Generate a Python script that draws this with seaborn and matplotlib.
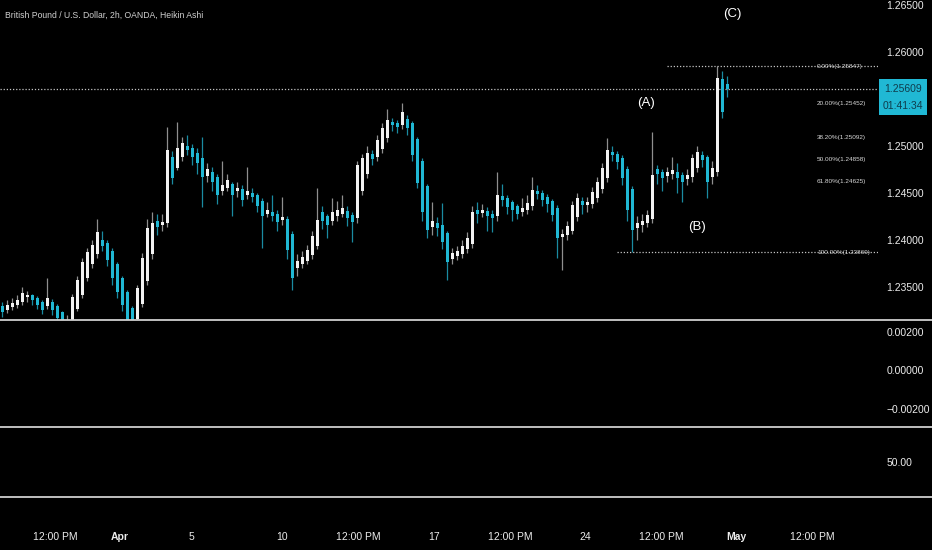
import numpy as np
import pandas as pd
import seaborn as sns
import matplotlib.pyplot as plt
from matplotlib.lines import Line2D
from matplotlib.patches import Rectangle

# Heikin Ashi bars (GBP/USD), one bar per step
ha_open = [
    1.2330, 1.2326, 1.2329, 1.2331, 1.2334, 1.2339, 1.2341, 1.2338, 1.2334, 1.2330,
    1.2334, 1.2330, 1.2323, 1.2312, 1.2314, 1.2327, 1.2342, 1.2360, 1.2374, 1.2385,
    1.2400, 1.2397, 1.2388, 1.2374, 1.2360, 1.2345, 1.2328, 1.2316, 1.2332, 1.2356,
    1.2385, 1.2420, 1.2416, 1.2418, 1.2488, 1.2477, 1.2488, 1.2500, 1.2498, 1.2493,
    1.2487, 1.2468, 1.2472, 1.2467, 1.2452, 1.2455, 1.2460, 1.2452, 1.2454, 1.2448,
    1.2450, 1.2448, 1.2442, 1.2428, 1.2430, 1.2428, 1.2421, 1.2422, 1.2406, 1.2370,
    1.2374, 1.2378, 1.2384, 1.2394, 1.2430, 1.2425, 1.2420, 1.2425, 1.2428, 1.2431,
    1.2427, 1.2423, 1.2452, 1.2470, 1.2491, 1.2488, 1.2497, 1.2508, 1.2526, 1.2524,
    1.2522, 1.2529, 1.2524, 1.2507, 1.2484, 1.2457, 1.2414, 1.2418, 1.2416, 1.2407,
    1.2380, 1.2383, 1.2385, 1.2390, 1.2396, 1.2432, 1.2429, 1.2431, 1.2428, 1.2425,
    1.2447, 1.2445, 1.2440, 1.2436, 1.2430, 1.2432, 1.2436, 1.2452, 1.2450, 1.2446,
    1.2442, 1.2434, 1.2403, 1.2405, 1.2410, 1.2424, 1.2441, 1.2437, 1.2438, 1.2445,
    1.2454, 1.2466, 1.2494, 1.2492, 1.2487, 1.2476, 1.2454, 1.2413, 1.2416, 1.2418,
    1.2422, 1.2475, 1.2472, 1.2468, 1.2470, 1.2472, 1.2469, 1.2465, 1.2467, 1.2477,
    1.2490, 1.2488, 1.2467, 1.2472, 1.2571, 1.2566,
]
ha_close = [
    1.2323, 1.2331, 1.2333, 1.2336, 1.2344, 1.2341, 1.2336, 1.2331, 1.2326, 1.2338,
    1.2326, 1.2317, 1.2310, 1.2315, 1.2339, 1.2357, 1.2377, 1.2387, 1.2395, 1.2408,
    1.2394, 1.2379, 1.2360, 1.2345, 1.2331, 1.2310, 1.2304, 1.2349, 1.2381, 1.2413,
    1.2418, 1.2414, 1.2419, 1.2496, 1.2466, 1.2498, 1.2503, 1.2496, 1.2488, 1.2482,
    1.2467, 1.2476, 1.2462, 1.2448, 1.2458, 1.2464, 1.2448, 1.2455, 1.2443, 1.2452,
    1.2446, 1.2436, 1.2426, 1.2432, 1.2426, 1.2419, 1.2424, 1.2389, 1.2360, 1.2378,
    1.2382, 1.2389, 1.2404, 1.2421, 1.2420, 1.2416, 1.2430, 1.2432, 1.2434, 1.2423,
    1.2419, 1.2480, 1.2487, 1.2493, 1.2486, 1.2506, 1.2519, 1.2528, 1.2522, 1.2520,
    1.2536, 1.2519, 1.2490, 1.2461, 1.2430, 1.2411, 1.2420, 1.2413, 1.2398, 1.2377,
    1.2386, 1.2388, 1.2394, 1.2402, 1.2430, 1.2428, 1.2432, 1.2426, 1.2423, 1.2448,
    1.2443, 1.2435, 1.2432, 1.2428, 1.2434, 1.2439, 1.2453, 1.2449, 1.2443, 1.2438,
    1.2427, 1.2402, 1.2406, 1.2415, 1.2437, 1.2445, 1.2437, 1.2440, 1.2451, 1.2462,
    1.2477, 1.2496, 1.2490, 1.2483, 1.2466, 1.2432, 1.2411, 1.2418, 1.2420, 1.2427,
    1.2469, 1.2470, 1.2466, 1.2472, 1.2474, 1.2466, 1.2462, 1.2469, 1.2487, 1.2494,
    1.2485, 1.2462, 1.2477, 1.2572, 1.2536, 1.2561,
]
ha_high = [
    1.2334, 1.2336, 1.2338, 1.2341, 1.2350, 1.2346, 1.2343, 1.2340, 1.2336, 1.2360,
    1.2337, 1.2332, 1.2325, 1.2320, 1.2343, 1.2362, 1.2381, 1.2392, 1.2400, 1.2422,
    1.2410, 1.2400, 1.2391, 1.2377, 1.2362, 1.2347, 1.2330, 1.2352, 1.2386, 1.2422,
    1.2430, 1.2428, 1.2428, 1.2520, 1.2495, 1.2525, 1.2510, 1.2512, 1.2502, 1.2498,
    1.2510, 1.2482, 1.2478, 1.2470, 1.2484, 1.2470, 1.2462, 1.2462, 1.2458, 1.2478,
    1.2455, 1.2450, 1.2445, 1.2440, 1.2448, 1.2432, 1.2446, 1.2425, 1.2410, 1.2385,
    1.2388, 1.2395, 1.2410, 1.2455, 1.2436, 1.2428, 1.2445, 1.2442, 1.2448, 1.2436,
    1.2430, 1.2484, 1.2492, 1.2500, 1.2496, 1.2512, 1.2524, 1.2539, 1.2530, 1.2528,
    1.2546, 1.2533, 1.2527, 1.2510, 1.2487, 1.2460, 1.2440, 1.2424, 1.2439, 1.2410,
    1.2392, 1.2394, 1.2400, 1.2408, 1.2436, 1.2440, 1.2438, 1.2435, 1.2432, 1.2472,
    1.2460, 1.2448, 1.2443, 1.2438, 1.2445, 1.2448, 1.2467, 1.2458, 1.2453, 1.2449,
    1.2444, 1.2437, 1.2412, 1.2420, 1.2442, 1.2450, 1.2446, 1.2446, 1.2456, 1.2467,
    1.2482, 1.2509, 1.2500, 1.2495, 1.2490, 1.2479, 1.2457, 1.2425, 1.2428, 1.2432,
    1.2515, 1.2480, 1.2476, 1.2478, 1.2488, 1.2482, 1.2472, 1.2475, 1.2492, 1.2500,
    1.2495, 1.2490, 1.2484, 1.2585, 1.2580, 1.2574,
]
ha_low = [
    1.2318, 1.2322, 1.2326, 1.2328, 1.2331, 1.2334, 1.2331, 1.2327, 1.2321, 1.2327,
    1.2320, 1.2313, 1.2306, 1.2305, 1.2310, 1.2324, 1.2338, 1.2356, 1.2370, 1.2381,
    1.2388, 1.2372, 1.2352, 1.2338, 1.2325, 1.2302, 1.2298, 1.2312, 1.2329, 1.2352,
    1.2380, 1.2405, 1.2410, 1.2414, 1.2460, 1.2474, 1.2484, 1.2490, 1.2480, 1.2470,
    1.2435, 1.2462, 1.2452, 1.2438, 1.2448, 1.2452, 1.2425, 1.2446, 1.2436, 1.2444,
    1.2440, 1.2430, 1.2392, 1.2424, 1.2420, 1.2410, 1.2416, 1.2380, 1.2347, 1.2362,
    1.2370, 1.2375, 1.2380, 1.2390, 1.2412, 1.2402, 1.2416, 1.2420, 1.2424, 1.2415,
    1.2398, 1.2418, 1.2448, 1.2466, 1.2480, 1.2484, 1.2493, 1.2504, 1.2516, 1.2514,
    1.2518, 1.2512, 1.2484, 1.2455, 1.2420, 1.2402, 1.2405, 1.2404, 1.2390, 1.2357,
    1.2375, 1.2379, 1.2381, 1.2386, 1.2392, 1.2418, 1.2424, 1.2410, 1.2408, 1.2420,
    1.2436, 1.2428, 1.2420, 1.2422, 1.2425, 1.2428, 1.2432, 1.2444, 1.2436, 1.2430,
    1.2420, 1.2381, 1.2368, 1.2400, 1.2406, 1.2420, 1.2428, 1.2430, 1.2434, 1.2440,
    1.2450, 1.2462, 1.2484, 1.2476, 1.2458, 1.2420, 1.2387, 1.2400, 1.2408, 1.2414,
    1.2418, 1.2460, 1.2452, 1.2462, 1.2465, 1.2450, 1.2440, 1.2458, 1.2462, 1.2472,
    1.2478, 1.2445, 1.2460, 1.2468, 1.2530, 1.2552,
]

last_price = 1.25609
countdown = "01:41:34"
price_ticks = [1.235, 1.240, 1.245, 1.250, 1.260, 1.265]

fib_ratios = ["0.00%", "20.00%", "38.20%", "50.00%", "61.80%", "100.00%"]
fib_levels = [1.25847, 1.25452, 1.25092, 1.24858, 1.24625, 1.23869]

wave_labels = ["(A)", "(B)", "(C)"]
wave_bar = [128.8, 139.0, 146.0]
wave_price = [1.25458, 1.24138, 1.26404]

time_labels = ["12:00 PM", "Apr", "5", "10", "12:00 PM", "17",
               "12:00 PM", "24", "12:00 PM", "May", "12:00 PM"]
time_pos = [10.6, 23.6, 37.8, 56.0, 71.2, 86.4, 101.6, 116.6, 131.8, 146.8, 162.0]

osc_ticks = [0.002, 0.0, -0.002]

sns.set_theme(style="dark", rc={"axes.facecolor": "black", "figure.facecolor": "black",
                                "axes.grid": False, "text.color": "#e6e6e6"})
plt.rcParams["font.family"] = ["Liberation Sans", "DejaVu Sans"]

W, H = 932, 550
fig = plt.figure(figsize=(W / 100, H / 100), dpi=100, facecolor="black")
right = 878 / W
ax = fig.add_axes([0, 1 - 320 / H, right, 320 / H])
ax2 = fig.add_axes([0, 1 - 427 / H, right, 107 / H], sharex=ax)
ax3 = fig.add_axes([0, 1 - 497 / H, right, 70 / H], sharex=ax)

df = pd.DataFrame({"open": ha_open, "close": ha_close, "high": ha_high, "low": ha_low})
df["bar"] = np.arange(len(df))
df["up"] = df["close"] >= df["open"]
df["bottom"] = df[["open", "close"]].min(axis=1)
df["body"] = np.maximum((df["close"] - df["open"]).abs(), 0.00012)

up = df[df["up"]]
dn = df[~df["up"]]
ax.vlines(up["bar"], up["low"], up["high"], color="#8f8f8f", lw=0.9, zorder=2)
ax.vlines(dn["bar"], dn["low"], dn["high"], color="#1a8ba1", lw=0.9, zorder=2)
ax.bar(up["bar"], up["body"], bottom=up["bottom"], width=0.6, color="#f2f2f2", lw=0, zorder=3)
ax.bar(dn["bar"], dn["body"], bottom=dn["bottom"], width=0.6, color="#20b8d4", lw=0, zorder=3)

xmax = 175.2
ax.set_xlim(-0.4, xmax)
ax.set_ylim(1.23149, 1.26553)

dot = (0, (1, 1.5))
ax.axhline(last_price, color="#c4c4c4", lw=0.9, ls=dot, zorder=1)
ax.hlines(fib_levels[0], 133, xmax, color="#c4c4c4", lw=0.9, ls=dot)
ax.hlines(fib_levels[-1], 123, xmax, color="#c4c4c4", lw=0.9, ls=dot)
for r, lv in zip(fib_ratios, fib_levels):
    ax.text(163, lv, f"{r}({lv:.5f})", fontsize=4.6, color="#d8d8d8", va="center", ha="left")

for t, b, p in zip(wave_labels, wave_bar, wave_price):
    ax.text(b, p, t, fontsize=9.5, color="white", ha="center", va="center")

tick_kw = dict(length=0, pad=6, labelsize=7.5, labelcolor="#ececec")
ax.yaxis.tick_right()
ax.set_yticks(price_ticks)
ax.set_yticklabels([f"{v:.5f}" for v in price_ticks])
ax.tick_params(axis="y", **tick_kw)
ax.tick_params(axis="x", bottom=False, labelbottom=False)

ax2.set_ylim(-0.002935, 0.002623)
ax2.yaxis.tick_right()
ax2.set_yticks(osc_ticks)
ax2.set_yticklabels([f"{v:.5f}".replace("-", "\u2212") for v in osc_ticks])
ax2.tick_params(axis="y", **tick_kw)
ax2.tick_params(axis="x", bottom=False, labelbottom=False)

ax3.set_ylim(0, 100)
ax3.yaxis.tick_right()
ax3.set_yticks([50])
ax3.set_yticklabels(["50.00"])
ax3.tick_params(axis="y", **tick_kw)
ax3.set_xticks(time_pos)
ax3.set_xticklabels(time_labels)
ax3.tick_params(axis="x", length=0, pad=25, labelsize=7.5, labelcolor="#ececec")
for lab in ax3.get_xticklabels():
    if lab.get_text() in ("Apr", "May"):
        lab.set_fontweight("bold")

for a in (ax, ax2, ax3):
    a.grid(False)
    for s in a.spines.values():
        s.set_visible(False)

for yp in (320, 427, 497):
    fig.add_artist(Line2D([0, 1], [1 - yp / H] * 2, transform=fig.transFigure,
                          color="#cfcfcf", lw=1.3))

fig.text(5 / W, 1 - 15 / H, "British Pound / U.S. Dollar, 2h, OANDA, Heikin Ashi",
         fontsize=6.2, color="#d0d0d0", ha="left", va="center")

fig.add_artist(Rectangle((879 / W, 1 - 115 / H), 48 / W, 36 / H, transform=fig.transFigure,
                         facecolor="#20b8d4", edgecolor="none"))
fig.text(903 / W, 1 - 89 / H, f"{last_price:.5f}", fontsize=7.5, color="#0f3c4c",
         ha="center", va="center")
fig.text(903 / W, 1 - 106 / H, countdown, fontsize=7.5, color="#0f3c4c",
         ha="center", va="center")

fig.savefig("out.png", dpi=100, facecolor="black")
